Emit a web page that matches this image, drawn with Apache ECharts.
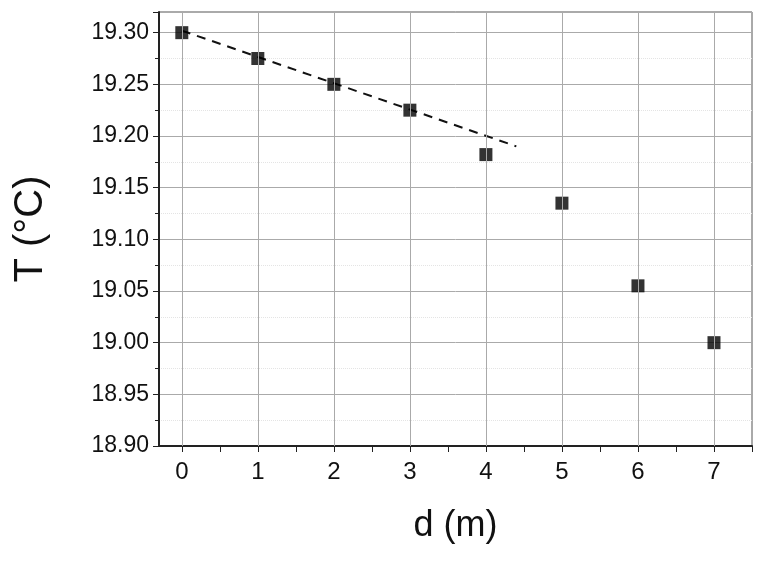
<!DOCTYPE html><html><head><meta charset="utf-8"><script src="https://cdn.jsdelivr.net/npm/echarts@6/dist/echarts.min.js"></script></head><body style="margin:0"><div id="c" style="width:769px;height:562px"></div><script>
const dValues=[0,1,2,3,4,5,6,7];
const tValues=[19.300,19.275,19.250,19.225,19.182,19.135,19.055,19.000];
const fitLine=[[0,19.302],[4.4,19.19]];
const xTicks=[0,1,2,3,4,5,6,7];
const xMinor=[-0.5,0.5,1.5,2.5,3.5,4.5,5.5,6.5,7.5].filter(v=>v>-0.3);
const F='Liberation Sans';
const ch=echarts.init(document.getElementById('c'));
ch.setOption({animation:false,
grid:{left:159,right:17,top:12,bottom:116,show:true,borderColor:'#555',borderWidth:1},
xAxis:{type:'value',min:-0.3,max:7.5,name:'d (m)',nameLocation:'middle',nameGap:62,
 nameTextStyle:{fontFamily:F,fontSize:36,color:'#111'},
 axisLine:{onZero:false,lineStyle:{color:'#222',width:2}},
 axisTick:{length:6,lineStyle:{color:'#222'},customValues:xTicks.concat(xMinor)},
 axisLabel:{fontFamily:F,fontSize:24,color:'#111',margin:14,customValues:xTicks},
 splitLine:{show:false}},
yAxis:{type:'value',min:18.9,max:19.32,interval:0.05,name:'T (\u00B0C)',nameLocation:'middle',nameGap:108,
 nameTextStyle:{fontFamily:F,fontSize:40,color:'#111'},
 axisLine:{show:true,onZero:false,lineStyle:{color:'#222',width:2}},axisTick:{show:true,length:6,lineStyle:{color:'#222'}},
 minorTick:{show:true,splitNumber:2,length:4},minorSplitLine:{show:true,lineStyle:{color:'#e4e4e4',type:'dotted'}},
 axisLabel:{fontFamily:F,fontSize:23,color:'#111',margin:10,formatter:v=>v>19.31?'':v.toFixed(2)},
 splitLine:{show:true,lineStyle:{color:'#aaa'}}},
series:[
 {type:'line',data:fitLine,symbol:'none',lineStyle:{color:'#111',width:2,type:[9,7]},
  markLine:{silent:true,symbol:'none',label:{show:false},lineStyle:{color:'#aaa',type:'solid',width:1},data:xTicks.map(v=>({xAxis:v}))},z:3},
 {type:'scatter',data:dValues.map((d,i)=>[d,tValues[i]]),symbol:'rect',symbolSize:13,itemStyle:{color:'#000'},z:4}
]});
</script></body></html>
